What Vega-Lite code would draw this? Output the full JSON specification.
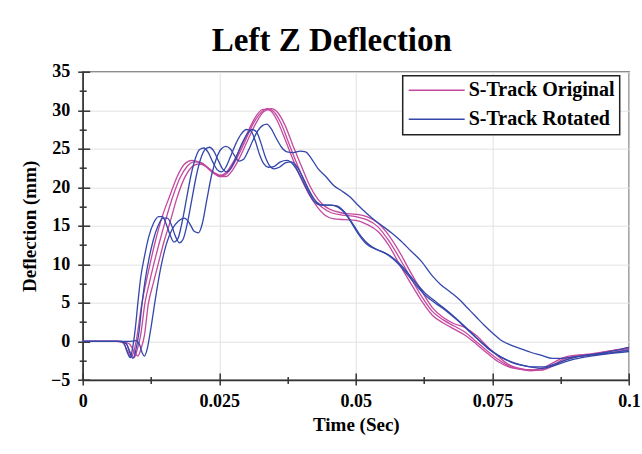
{
  "$schema": "https://vega.github.io/schema/vega-lite/v6.json",
  "autosize": {"type": "none"},
  "padding": {"left": 82.7, "top": 71.7, "right": 13, "bottom": 74},
  "width": 546.3,
  "height": 308.3,
  "background": "white",
  "title": {"text": "Left Z Deflection", "font": "Liberation Serif", "fontSize": 33, "fontWeight": "bold", "color": "#000", "frame": "group", "anchor": "middle", "dx": -24, "baseline": "alphabetic", "offset": -21.6},
  "data": {"values": [
    {"s":"S-Track Original","r":"M1","t":0,"v":0},{"s":"S-Track Original","r":"M1","t":0.006,"v":0},{"s":"S-Track Original","r":"M1","t":0.0072,"v":-0.1},{"s":"S-Track Original","r":"M1","t":0.0082,"v":-1.2},{"s":"S-Track Original","r":"M1","t":0.0088,"v":-2.0},{"s":"S-Track Original","r":"M1","t":0.0094,"v":-1.2},{"s":"S-Track Original","r":"M1","t":0.0099,"v":0.5},{"s":"S-Track Original","r":"M1","t":0.0108,"v":4.8},{"s":"S-Track Original","r":"M1","t":0.012,"v":9},{"s":"S-Track Original","r":"M1","t":0.0133,"v":13},{"s":"S-Track Original","r":"M1","t":0.0146,"v":16.3},{"s":"S-Track Original","r":"M1","t":0.016,"v":19},{"s":"S-Track Original","r":"M1","t":0.0173,"v":21.4},{"s":"S-Track Original","r":"M1","t":0.0186,"v":23},{"s":"S-Track Original","r":"M1","t":0.02,"v":23.5},{"s":"S-Track Original","r":"M1","t":0.0212,"v":23.3},{"s":"S-Track Original","r":"M1","t":0.0225,"v":22.7},{"s":"S-Track Original","r":"M1","t":0.0238,"v":21.9},{"s":"S-Track Original","r":"M1","t":0.025,"v":21.5},{"s":"S-Track Original","r":"M1","t":0.0262,"v":21.9},{"s":"S-Track Original","r":"M1","t":0.0275,"v":23.2},{"s":"S-Track Original","r":"M1","t":0.029,"v":25.3},{"s":"S-Track Original","r":"M1","t":0.0305,"v":27.6},{"s":"S-Track Original","r":"M1","t":0.0318,"v":29.3},{"s":"S-Track Original","r":"M1","t":0.033,"v":30.1},{"s":"S-Track Original","r":"M1","t":0.0342,"v":30.0},{"s":"S-Track Original","r":"M1","t":0.0355,"v":28.8},{"s":"S-Track Original","r":"M1","t":0.037,"v":26.3},{"s":"S-Track Original","r":"M1","t":0.0385,"v":23.6},{"s":"S-Track Original","r":"M1","t":0.04,"v":21.1},{"s":"S-Track Original","r":"M1","t":0.0415,"v":19},{"s":"S-Track Original","r":"M1","t":0.043,"v":17.4},{"s":"S-Track Original","r":"M1","t":0.0445,"v":16.3},{"s":"S-Track Original","r":"M1","t":0.046,"v":15.9},{"s":"S-Track Original","r":"M1","t":0.048,"v":15.8},{"s":"S-Track Original","r":"M1","t":0.05,"v":15.7},{"s":"S-Track Original","r":"M1","t":0.052,"v":15.2},{"s":"S-Track Original","r":"M1","t":0.054,"v":14.3},{"s":"S-Track Original","r":"M1","t":0.056,"v":12.5},{"s":"S-Track Original","r":"M1","t":0.058,"v":10},{"s":"S-Track Original","r":"M1","t":0.06,"v":7.6},{"s":"S-Track Original","r":"M1","t":0.062,"v":5.3},{"s":"S-Track Original","r":"M1","t":0.064,"v":3.4},{"s":"S-Track Original","r":"M1","t":0.066,"v":2.4},{"s":"S-Track Original","r":"M1","t":0.068,"v":1.6},{"s":"S-Track Original","r":"M1","t":0.07,"v":0.8},{"s":"S-Track Original","r":"M1","t":0.072,"v":-0.3},{"s":"S-Track Original","r":"M1","t":0.074,"v":-1.5},{"s":"S-Track Original","r":"M1","t":0.076,"v":-2.6},{"s":"S-Track Original","r":"M1","t":0.078,"v":-3.3},{"s":"S-Track Original","r":"M1","t":0.08,"v":-3.6},{"s":"S-Track Original","r":"M1","t":0.082,"v":-3.7},{"s":"S-Track Original","r":"M1","t":0.084,"v":-3.5},{"s":"S-Track Original","r":"M1","t":0.086,"v":-2.8},{"s":"S-Track Original","r":"M1","t":0.088,"v":-2.1},{"s":"S-Track Original","r":"M1","t":0.09,"v":-1.8},{"s":"S-Track Original","r":"M1","t":0.093,"v":-1.7},{"s":"S-Track Original","r":"M1","t":0.096,"v":-1.3},{"s":"S-Track Original","r":"M1","t":0.1,"v":-0.8},
    {"s":"S-Track Original","r":"M2","t":0,"v":0},{"s":"S-Track Original","r":"M2","t":0.0065,"v":0},{"s":"S-Track Original","r":"M2","t":0.0078,"v":-0.2},{"s":"S-Track Original","r":"M2","t":0.0088,"v":-1.5},{"s":"S-Track Original","r":"M2","t":0.0094,"v":-2.1},{"s":"S-Track Original","r":"M2","t":0.01,"v":-1.0},{"s":"S-Track Original","r":"M2","t":0.0106,"v":0.8},{"s":"S-Track Original","r":"M2","t":0.0114,"v":5},{"s":"S-Track Original","r":"M2","t":0.0122,"v":7.6},{"s":"S-Track Original","r":"M2","t":0.013,"v":10},{"s":"S-Track Original","r":"M2","t":0.0141,"v":13},{"s":"S-Track Original","r":"M2","t":0.0152,"v":15.8},{"s":"S-Track Original","r":"M2","t":0.0165,"v":18.8},{"s":"S-Track Original","r":"M2","t":0.0178,"v":21.2},{"s":"S-Track Original","r":"M2","t":0.0191,"v":22.7},{"s":"S-Track Original","r":"M2","t":0.0204,"v":23.3},{"s":"S-Track Original","r":"M2","t":0.0217,"v":23.2},{"s":"S-Track Original","r":"M2","t":0.023,"v":22.5},{"s":"S-Track Original","r":"M2","t":0.0243,"v":21.8},{"s":"S-Track Original","r":"M2","t":0.0256,"v":21.5},{"s":"S-Track Original","r":"M2","t":0.0268,"v":22.1},{"s":"S-Track Original","r":"M2","t":0.0281,"v":23.6},{"s":"S-Track Original","r":"M2","t":0.0296,"v":25.8},{"s":"S-Track Original","r":"M2","t":0.0311,"v":28.1},{"s":"S-Track Original","r":"M2","t":0.0325,"v":29.6},{"s":"S-Track Original","r":"M2","t":0.0338,"v":30.2},{"s":"S-Track Original","r":"M2","t":0.035,"v":29.8},{"s":"S-Track Original","r":"M2","t":0.0363,"v":28.3},{"s":"S-Track Original","r":"M2","t":0.0378,"v":25.6},{"s":"S-Track Original","r":"M2","t":0.0393,"v":22.9},{"s":"S-Track Original","r":"M2","t":0.0408,"v":20.4},{"s":"S-Track Original","r":"M2","t":0.0423,"v":18.5},{"s":"S-Track Original","r":"M2","t":0.0438,"v":17.4},{"s":"S-Track Original","r":"M2","t":0.0455,"v":16.7},{"s":"S-Track Original","r":"M2","t":0.0475,"v":16.4},{"s":"S-Track Original","r":"M2","t":0.05,"v":16.2},{"s":"S-Track Original","r":"M2","t":0.052,"v":15.8},{"s":"S-Track Original","r":"M2","t":0.054,"v":14.9},{"s":"S-Track Original","r":"M2","t":0.056,"v":13.1},{"s":"S-Track Original","r":"M2","t":0.058,"v":10.8},{"s":"S-Track Original","r":"M2","t":0.06,"v":8.3},{"s":"S-Track Original","r":"M2","t":0.062,"v":5.9},{"s":"S-Track Original","r":"M2","t":0.064,"v":3.9},{"s":"S-Track Original","r":"M2","t":0.066,"v":2.8},{"s":"S-Track Original","r":"M2","t":0.068,"v":2.0},{"s":"S-Track Original","r":"M2","t":0.07,"v":1.2},{"s":"S-Track Original","r":"M2","t":0.072,"v":0},{"s":"S-Track Original","r":"M2","t":0.074,"v":-1.2},{"s":"S-Track Original","r":"M2","t":0.076,"v":-2.3},{"s":"S-Track Original","r":"M2","t":0.078,"v":-3.2},{"s":"S-Track Original","r":"M2","t":0.08,"v":-3.6},{"s":"S-Track Original","r":"M2","t":0.082,"v":-3.8},{"s":"S-Track Original","r":"M2","t":0.084,"v":-3.7},{"s":"S-Track Original","r":"M2","t":0.086,"v":-3.1},{"s":"S-Track Original","r":"M2","t":0.088,"v":-2.3},{"s":"S-Track Original","r":"M2","t":0.09,"v":-1.9},{"s":"S-Track Original","r":"M2","t":0.093,"v":-1.6},{"s":"S-Track Original","r":"M2","t":0.096,"v":-1.3},{"s":"S-Track Original","r":"M2","t":0.1,"v":-0.9},
    {"s":"S-Track Original","r":"M3","t":0,"v":0},{"s":"S-Track Original","r":"M3","t":0.007,"v":0},{"s":"S-Track Original","r":"M3","t":0.0085,"v":-0.3},{"s":"S-Track Original","r":"M3","t":0.0095,"v":-1.4},{"s":"S-Track Original","r":"M3","t":0.0101,"v":-1.9},{"s":"S-Track Original","r":"M3","t":0.0107,"v":-0.9},{"s":"S-Track Original","r":"M3","t":0.0113,"v":0.8},{"s":"S-Track Original","r":"M3","t":0.012,"v":4.8},{"s":"S-Track Original","r":"M3","t":0.0129,"v":7.5},{"s":"S-Track Original","r":"M3","t":0.0138,"v":10},{"s":"S-Track Original","r":"M3","t":0.0149,"v":13},{"s":"S-Track Original","r":"M3","t":0.016,"v":15.5},{"s":"S-Track Original","r":"M3","t":0.0172,"v":18.5},{"s":"S-Track Original","r":"M3","t":0.0185,"v":21},{"s":"S-Track Original","r":"M3","t":0.0198,"v":22.5},{"s":"S-Track Original","r":"M3","t":0.0211,"v":23.0},{"s":"S-Track Original","r":"M3","t":0.0224,"v":22.8},{"s":"S-Track Original","r":"M3","t":0.0237,"v":22.1},{"s":"S-Track Original","r":"M3","t":0.025,"v":21.4},{"s":"S-Track Original","r":"M3","t":0.0262,"v":21.4},{"s":"S-Track Original","r":"M3","t":0.0274,"v":22.2},{"s":"S-Track Original","r":"M3","t":0.0287,"v":23.8},{"s":"S-Track Original","r":"M3","t":0.0302,"v":26.1},{"s":"S-Track Original","r":"M3","t":0.0317,"v":28.3},{"s":"S-Track Original","r":"M3","t":0.0331,"v":29.8},{"s":"S-Track Original","r":"M3","t":0.0345,"v":30.2},{"s":"S-Track Original","r":"M3","t":0.0357,"v":29.7},{"s":"S-Track Original","r":"M3","t":0.037,"v":28.1},{"s":"S-Track Original","r":"M3","t":0.0385,"v":25.4},{"s":"S-Track Original","r":"M3","t":0.04,"v":22.8},{"s":"S-Track Original","r":"M3","t":0.0415,"v":20.3},{"s":"S-Track Original","r":"M3","t":0.043,"v":18.5},{"s":"S-Track Original","r":"M3","t":0.0446,"v":17.4},{"s":"S-Track Original","r":"M3","t":0.0462,"v":16.9},{"s":"S-Track Original","r":"M3","t":0.048,"v":16.6},{"s":"S-Track Original","r":"M3","t":0.05,"v":16.5},{"s":"S-Track Original","r":"M3","t":0.052,"v":16.2},{"s":"S-Track Original","r":"M3","t":0.054,"v":15.4},{"s":"S-Track Original","r":"M3","t":0.056,"v":13.8},{"s":"S-Track Original","r":"M3","t":0.058,"v":11.6},{"s":"S-Track Original","r":"M3","t":0.06,"v":9.0},{"s":"S-Track Original","r":"M3","t":0.062,"v":6.6},{"s":"S-Track Original","r":"M3","t":0.064,"v":4.4},{"s":"S-Track Original","r":"M3","t":0.066,"v":3.1},{"s":"S-Track Original","r":"M3","t":0.068,"v":2.3},{"s":"S-Track Original","r":"M3","t":0.07,"v":1.8},{"s":"S-Track Original","r":"M3","t":0.072,"v":0.8},{"s":"S-Track Original","r":"M3","t":0.074,"v":-0.6},{"s":"S-Track Original","r":"M3","t":0.076,"v":-1.9},{"s":"S-Track Original","r":"M3","t":0.078,"v":-3.0},{"s":"S-Track Original","r":"M3","t":0.08,"v":-3.5},{"s":"S-Track Original","r":"M3","t":0.082,"v":-3.7},{"s":"S-Track Original","r":"M3","t":0.084,"v":-3.7},{"s":"S-Track Original","r":"M3","t":0.086,"v":-3.2},{"s":"S-Track Original","r":"M3","t":0.088,"v":-2.5},{"s":"S-Track Original","r":"M3","t":0.09,"v":-2.0},{"s":"S-Track Original","r":"M3","t":0.093,"v":-1.8},{"s":"S-Track Original","r":"M3","t":0.096,"v":-1.5},{"s":"S-Track Original","r":"M3","t":0.1,"v":-1.1},
    {"s":"S-Track Rotated","r":"B1","t":0,"v":0},{"s":"S-Track Rotated","r":"B1","t":0.0065,"v":0},{"s":"S-Track Rotated","r":"B1","t":0.0075,"v":-0.2},{"s":"S-Track Rotated","r":"B1","t":0.0082,"v":-1.5},{"s":"S-Track Rotated","r":"B1","t":0.0087,"v":-2.1},{"s":"S-Track Rotated","r":"B1","t":0.0091,"v":-1.0},{"s":"S-Track Rotated","r":"B1","t":0.0096,"v":1.5},{"s":"S-Track Rotated","r":"B1","t":0.0101,"v":5},{"s":"S-Track Rotated","r":"B1","t":0.0106,"v":8.2},{"s":"S-Track Rotated","r":"B1","t":0.0113,"v":11},{"s":"S-Track Rotated","r":"B1","t":0.0121,"v":13.6},{"s":"S-Track Rotated","r":"B1","t":0.013,"v":15.4},{"s":"S-Track Rotated","r":"B1","t":0.0139,"v":16.2},{"s":"S-Track Rotated","r":"B1","t":0.0146,"v":16.2},{"s":"S-Track Rotated","r":"B1","t":0.0153,"v":15.2},{"s":"S-Track Rotated","r":"B1","t":0.016,"v":13.8},{"s":"S-Track Rotated","r":"B1","t":0.0167,"v":12.9},{"s":"S-Track Rotated","r":"B1","t":0.0174,"v":13.3},{"s":"S-Track Rotated","r":"B1","t":0.0182,"v":15.5},{"s":"S-Track Rotated","r":"B1","t":0.019,"v":18.5},{"s":"S-Track Rotated","r":"B1","t":0.0198,"v":21.5},{"s":"S-Track Rotated","r":"B1","t":0.0206,"v":23.7},{"s":"S-Track Rotated","r":"B1","t":0.0214,"v":24.9},{"s":"S-Track Rotated","r":"B1","t":0.0222,"v":25.1},{"s":"S-Track Rotated","r":"B1","t":0.023,"v":24.5},{"s":"S-Track Rotated","r":"B1","t":0.0238,"v":23.3},{"s":"S-Track Rotated","r":"B1","t":0.0246,"v":22.3},{"s":"S-Track Rotated","r":"B1","t":0.0254,"v":22.0},{"s":"S-Track Rotated","r":"B1","t":0.0262,"v":22.6},{"s":"S-Track Rotated","r":"B1","t":0.027,"v":23.9},{"s":"S-Track Rotated","r":"B1","t":0.028,"v":25.6},{"s":"S-Track Rotated","r":"B1","t":0.029,"v":26.9},{"s":"S-Track Rotated","r":"B1","t":0.03,"v":27.5},{"s":"S-Track Rotated","r":"B1","t":0.0308,"v":27.3},{"s":"S-Track Rotated","r":"B1","t":0.0316,"v":26},{"s":"S-Track Rotated","r":"B1","t":0.0324,"v":24.2},{"s":"S-Track Rotated","r":"B1","t":0.0332,"v":23.0},{"s":"S-Track Rotated","r":"B1","t":0.034,"v":22.6},{"s":"S-Track Rotated","r":"B1","t":0.035,"v":22.7},{"s":"S-Track Rotated","r":"B1","t":0.0362,"v":23.3},{"s":"S-Track Rotated","r":"B1","t":0.0374,"v":23.5},{"s":"S-Track Rotated","r":"B1","t":0.0386,"v":22.9},{"s":"S-Track Rotated","r":"B1","t":0.0398,"v":21.5},{"s":"S-Track Rotated","r":"B1","t":0.041,"v":19.8},{"s":"S-Track Rotated","r":"B1","t":0.0422,"v":18.3},{"s":"S-Track Rotated","r":"B1","t":0.0435,"v":17.7},{"s":"S-Track Rotated","r":"B1","t":0.045,"v":17.7},{"s":"S-Track Rotated","r":"B1","t":0.0465,"v":17.6},{"s":"S-Track Rotated","r":"B1","t":0.0478,"v":16.9},{"s":"S-Track Rotated","r":"B1","t":0.049,"v":15.6},{"s":"S-Track Rotated","r":"B1","t":0.0505,"v":13.9},{"s":"S-Track Rotated","r":"B1","t":0.052,"v":12.6},{"s":"S-Track Rotated","r":"B1","t":0.0535,"v":12.0},{"s":"S-Track Rotated","r":"B1","t":0.055,"v":11.6},{"s":"S-Track Rotated","r":"B1","t":0.0565,"v":11.0},{"s":"S-Track Rotated","r":"B1","t":0.058,"v":10.1},{"s":"S-Track Rotated","r":"B1","t":0.0595,"v":8.9},{"s":"S-Track Rotated","r":"B1","t":0.061,"v":7.6},{"s":"S-Track Rotated","r":"B1","t":0.0625,"v":6.4},{"s":"S-Track Rotated","r":"B1","t":0.064,"v":5.5},{"s":"S-Track Rotated","r":"B1","t":0.066,"v":4.4},{"s":"S-Track Rotated","r":"B1","t":0.068,"v":3.2},{"s":"S-Track Rotated","r":"B1","t":0.07,"v":1.9},{"s":"S-Track Rotated","r":"B1","t":0.072,"v":0.5},{"s":"S-Track Rotated","r":"B1","t":0.074,"v":-0.8},{"s":"S-Track Rotated","r":"B1","t":0.076,"v":-1.8},{"s":"S-Track Rotated","r":"B1","t":0.078,"v":-2.5},{"s":"S-Track Rotated","r":"B1","t":0.08,"v":-3.0},{"s":"S-Track Rotated","r":"B1","t":0.082,"v":-3.3},{"s":"S-Track Rotated","r":"B1","t":0.084,"v":-3.5},{"s":"S-Track Rotated","r":"B1","t":0.086,"v":-3.2},{"s":"S-Track Rotated","r":"B1","t":0.088,"v":-2.7},{"s":"S-Track Rotated","r":"B1","t":0.09,"v":-2.3},{"s":"S-Track Rotated","r":"B1","t":0.093,"v":-1.9},{"s":"S-Track Rotated","r":"B1","t":0.096,"v":-1.6},{"s":"S-Track Rotated","r":"B1","t":0.1,"v":-1.3},
    {"s":"S-Track Rotated","r":"B2","t":0,"v":0},{"s":"S-Track Rotated","r":"B2","t":0.007,"v":0},{"s":"S-Track Rotated","r":"B2","t":0.008,"v":-0.3},{"s":"S-Track Rotated","r":"B2","t":0.0087,"v":-1.6},{"s":"S-Track Rotated","r":"B2","t":0.0092,"v":-2.2},{"s":"S-Track Rotated","r":"B2","t":0.0097,"v":-1.2},{"s":"S-Track Rotated","r":"B2","t":0.0103,"v":1.2},{"s":"S-Track Rotated","r":"B2","t":0.0108,"v":4.5},{"s":"S-Track Rotated","r":"B2","t":0.0114,"v":7.8},{"s":"S-Track Rotated","r":"B2","t":0.0121,"v":10.6},{"s":"S-Track Rotated","r":"B2","t":0.0129,"v":13.1},{"s":"S-Track Rotated","r":"B2","t":0.0138,"v":15},{"s":"S-Track Rotated","r":"B2","t":0.0147,"v":16.0},{"s":"S-Track Rotated","r":"B2","t":0.0155,"v":16.0},{"s":"S-Track Rotated","r":"B2","t":0.0163,"v":15},{"s":"S-Track Rotated","r":"B2","t":0.017,"v":13.6},{"s":"S-Track Rotated","r":"B2","t":0.0177,"v":12.8},{"s":"S-Track Rotated","r":"B2","t":0.0184,"v":13.3},{"s":"S-Track Rotated","r":"B2","t":0.0192,"v":15.5},{"s":"S-Track Rotated","r":"B2","t":0.02,"v":18.5},{"s":"S-Track Rotated","r":"B2","t":0.0208,"v":21.5},{"s":"S-Track Rotated","r":"B2","t":0.0216,"v":23.7},{"s":"S-Track Rotated","r":"B2","t":0.0224,"v":24.9},{"s":"S-Track Rotated","r":"B2","t":0.0232,"v":25.2},{"s":"S-Track Rotated","r":"B2","t":0.024,"v":24.7},{"s":"S-Track Rotated","r":"B2","t":0.0248,"v":23.5},{"s":"S-Track Rotated","r":"B2","t":0.0256,"v":22.4},{"s":"S-Track Rotated","r":"B2","t":0.0264,"v":22.0},{"s":"S-Track Rotated","r":"B2","t":0.0272,"v":22.6},{"s":"S-Track Rotated","r":"B2","t":0.0281,"v":23.9},{"s":"S-Track Rotated","r":"B2","t":0.0291,"v":25.6},{"s":"S-Track Rotated","r":"B2","t":0.0301,"v":26.9},{"s":"S-Track Rotated","r":"B2","t":0.031,"v":27.5},{"s":"S-Track Rotated","r":"B2","t":0.0318,"v":27.2},{"s":"S-Track Rotated","r":"B2","t":0.0326,"v":25.8},{"s":"S-Track Rotated","r":"B2","t":0.0334,"v":24},{"s":"S-Track Rotated","r":"B2","t":0.0342,"v":22.8},{"s":"S-Track Rotated","r":"B2","t":0.035,"v":22.4},{"s":"S-Track Rotated","r":"B2","t":0.036,"v":22.6},{"s":"S-Track Rotated","r":"B2","t":0.0372,"v":23.2},{"s":"S-Track Rotated","r":"B2","t":0.0382,"v":23.3},{"s":"S-Track Rotated","r":"B2","t":0.0394,"v":22.5},{"s":"S-Track Rotated","r":"B2","t":0.0405,"v":21},{"s":"S-Track Rotated","r":"B2","t":0.0416,"v":19.4},{"s":"S-Track Rotated","r":"B2","t":0.0428,"v":18.1},{"s":"S-Track Rotated","r":"B2","t":0.044,"v":17.7},{"s":"S-Track Rotated","r":"B2","t":0.0455,"v":17.7},{"s":"S-Track Rotated","r":"B2","t":0.0468,"v":17.4},{"s":"S-Track Rotated","r":"B2","t":0.0482,"v":16.5},{"s":"S-Track Rotated","r":"B2","t":0.0495,"v":15.2},{"s":"S-Track Rotated","r":"B2","t":0.051,"v":13.6},{"s":"S-Track Rotated","r":"B2","t":0.0525,"v":12.5},{"s":"S-Track Rotated","r":"B2","t":0.054,"v":11.9},{"s":"S-Track Rotated","r":"B2","t":0.0555,"v":11.4},{"s":"S-Track Rotated","r":"B2","t":0.057,"v":10.6},{"s":"S-Track Rotated","r":"B2","t":0.0585,"v":9.5},{"s":"S-Track Rotated","r":"B2","t":0.06,"v":8.2},{"s":"S-Track Rotated","r":"B2","t":0.0615,"v":6.9},{"s":"S-Track Rotated","r":"B2","t":0.063,"v":5.8},{"s":"S-Track Rotated","r":"B2","t":0.0645,"v":5.0},{"s":"S-Track Rotated","r":"B2","t":0.0665,"v":4.0},{"s":"S-Track Rotated","r":"B2","t":0.0685,"v":2.8},{"s":"S-Track Rotated","r":"B2","t":0.0705,"v":1.5},{"s":"S-Track Rotated","r":"B2","t":0.0725,"v":0.2},{"s":"S-Track Rotated","r":"B2","t":0.0745,"v":-1.0},{"s":"S-Track Rotated","r":"B2","t":0.0765,"v":-2.0},{"s":"S-Track Rotated","r":"B2","t":0.0785,"v":-2.7},{"s":"S-Track Rotated","r":"B2","t":0.0805,"v":-3.1},{"s":"S-Track Rotated","r":"B2","t":0.0825,"v":-3.3},{"s":"S-Track Rotated","r":"B2","t":0.0845,"v":-3.3},{"s":"S-Track Rotated","r":"B2","t":0.0865,"v":-2.9},{"s":"S-Track Rotated","r":"B2","t":0.0885,"v":-2.4},{"s":"S-Track Rotated","r":"B2","t":0.0905,"v":-2.0},{"s":"S-Track Rotated","r":"B2","t":0.0935,"v":-1.7},{"s":"S-Track Rotated","r":"B2","t":0.0965,"v":-1.5},{"s":"S-Track Rotated","r":"B2","t":0.1,"v":-1.1},
    {"s":"S-Track Rotated","r":"B3","t":0,"v":0},{"s":"S-Track Rotated","r":"B3","t":0.0085,"v":0},{"s":"S-Track Rotated","r":"B3","t":0.0097,"v":0.1},{"s":"S-Track Rotated","r":"B3","t":0.0104,"v":-0.4},{"s":"S-Track Rotated","r":"B3","t":0.0109,"v":-1.5},{"s":"S-Track Rotated","r":"B3","t":0.0113,"v":-1.9},{"s":"S-Track Rotated","r":"B3","t":0.0118,"v":-1.0},{"s":"S-Track Rotated","r":"B3","t":0.0125,"v":1.8},{"s":"S-Track Rotated","r":"B3","t":0.0133,"v":5.5},{"s":"S-Track Rotated","r":"B3","t":0.0143,"v":9.6},{"s":"S-Track Rotated","r":"B3","t":0.0153,"v":12.6},{"s":"S-Track Rotated","r":"B3","t":0.0164,"v":14.6},{"s":"S-Track Rotated","r":"B3","t":0.0175,"v":15.6},{"s":"S-Track Rotated","r":"B3","t":0.0186,"v":16.0},{"s":"S-Track Rotated","r":"B3","t":0.0195,"v":15.4},{"s":"S-Track Rotated","r":"B3","t":0.0204,"v":14.3},{"s":"S-Track Rotated","r":"B3","t":0.0212,"v":14.1},{"s":"S-Track Rotated","r":"B3","t":0.0219,"v":15.3},{"s":"S-Track Rotated","r":"B3","t":0.0227,"v":18.3},{"s":"S-Track Rotated","r":"B3","t":0.0236,"v":21.6},{"s":"S-Track Rotated","r":"B3","t":0.0245,"v":23.8},{"s":"S-Track Rotated","r":"B3","t":0.0254,"v":25.0},{"s":"S-Track Rotated","r":"B3","t":0.0262,"v":25.3},{"s":"S-Track Rotated","r":"B3","t":0.027,"v":25.0},{"s":"S-Track Rotated","r":"B3","t":0.0278,"v":24.1},{"s":"S-Track Rotated","r":"B3","t":0.0286,"v":23.4},{"s":"S-Track Rotated","r":"B3","t":0.0294,"v":23.6},{"s":"S-Track Rotated","r":"B3","t":0.0302,"v":24.6},{"s":"S-Track Rotated","r":"B3","t":0.0311,"v":26.0},{"s":"S-Track Rotated","r":"B3","t":0.032,"v":27.3},{"s":"S-Track Rotated","r":"B3","t":0.0329,"v":28.0},{"s":"S-Track Rotated","r":"B3","t":0.0337,"v":28.2},{"s":"S-Track Rotated","r":"B3","t":0.0345,"v":27.6},{"s":"S-Track Rotated","r":"B3","t":0.0354,"v":26.4},{"s":"S-Track Rotated","r":"B3","t":0.0364,"v":25.2},{"s":"S-Track Rotated","r":"B3","t":0.0374,"v":24.6},{"s":"S-Track Rotated","r":"B3","t":0.0385,"v":24.5},{"s":"S-Track Rotated","r":"B3","t":0.0398,"v":24.7},{"s":"S-Track Rotated","r":"B3","t":0.0408,"v":24.6},{"s":"S-Track Rotated","r":"B3","t":0.0418,"v":23.8},{"s":"S-Track Rotated","r":"B3","t":0.043,"v":22.5},{"s":"S-Track Rotated","r":"B3","t":0.0445,"v":21.4},{"s":"S-Track Rotated","r":"B3","t":0.046,"v":20.2},{"s":"S-Track Rotated","r":"B3","t":0.0475,"v":19.5},{"s":"S-Track Rotated","r":"B3","t":0.049,"v":18.7},{"s":"S-Track Rotated","r":"B3","t":0.0505,"v":17.6},{"s":"S-Track Rotated","r":"B3","t":0.052,"v":16.6},{"s":"S-Track Rotated","r":"B3","t":0.0535,"v":15.7},{"s":"S-Track Rotated","r":"B3","t":0.055,"v":14.9},{"s":"S-Track Rotated","r":"B3","t":0.0565,"v":14.1},{"s":"S-Track Rotated","r":"B3","t":0.058,"v":13.2},{"s":"S-Track Rotated","r":"B3","t":0.06,"v":11.8},{"s":"S-Track Rotated","r":"B3","t":0.062,"v":10.4},{"s":"S-Track Rotated","r":"B3","t":0.064,"v":8.5},{"s":"S-Track Rotated","r":"B3","t":0.0655,"v":7.4},{"s":"S-Track Rotated","r":"B3","t":0.0675,"v":6.3},{"s":"S-Track Rotated","r":"B3","t":0.069,"v":5.4},{"s":"S-Track Rotated","r":"B3","t":0.0705,"v":4.3},{"s":"S-Track Rotated","r":"B3","t":0.072,"v":3.2},{"s":"S-Track Rotated","r":"B3","t":0.0735,"v":2.1},{"s":"S-Track Rotated","r":"B3","t":0.075,"v":1.1},{"s":"S-Track Rotated","r":"B3","t":0.0765,"v":0.2},{"s":"S-Track Rotated","r":"B3","t":0.0785,"v":-0.5},{"s":"S-Track Rotated","r":"B3","t":0.08,"v":-0.9},{"s":"S-Track Rotated","r":"B3","t":0.082,"v":-1.4},{"s":"S-Track Rotated","r":"B3","t":0.084,"v":-1.8},{"s":"S-Track Rotated","r":"B3","t":0.086,"v":-2.2},{"s":"S-Track Rotated","r":"B3","t":0.0875,"v":-2.2},{"s":"S-Track Rotated","r":"B3","t":0.09,"v":-2.0},{"s":"S-Track Rotated","r":"B3","t":0.093,"v":-1.7},{"s":"S-Track Rotated","r":"B3","t":0.096,"v":-1.4},{"s":"S-Track Rotated","r":"B3","t":0.098,"v":-1.1},{"s":"S-Track Rotated","r":"B3","t":0.1,"v":-0.75}
  ]},
  "layer": [
    {
      "mark": {"type": "line", "strokeWidth": 1.3, "interpolate": "monotone"},
      "encoding": {
        "x": {"field": "t", "type": "quantitative", "scale": {"domain": [0, 0.1], "nice": false},
          "axis": {"orient": "bottom", "values": [0, 0.025, 0.05, 0.075, 0.1], "format": ".3~f", "title": "Time (Sec)", "tickSize": 5, "labelPadding": 7.5, "titlePadding": 5, "grid": true, "labelFlush": false}},
        "y": {"field": "v", "type": "quantitative", "scale": {"domain": [-5, 35], "nice": false, "zero": false},
          "axis": {"orient": "left", "values": [-5, 0, 5, 10, 15, 20, 25, 30, 35], "title": "Deflection (mm)", "tickSize": 5, "labelPadding": 8, "titlePadding": 11, "grid": true, "labelFlush": false}},
        "color": {"field": "s", "type": "nominal",
          "scale": {"domain": ["S-Track Original", "S-Track Rotated"], "range": ["#c4489f", "#3447aa"]},
          "legend": {"title": null, "orient": "none", "legendX": 320, "legendY": 4, "symbolType": "stroke", "symbolSize": 3136, "symbolStrokeWidth": 1.5, "clipHeight": 19, "labelFont": "Liberation Serif", "labelFontSize": 20, "labelFontWeight": "bold", "labelColor": "#000", "labelOffset": 3, "labelLimit": 300, "padding": 5, "rowPadding": 8, "strokeColor": "#222", "fillColor": "white"}},
        "detail": {"field": "r", "type": "nominal"}
      }
    },
    {
      "mark": {"type": "point", "opacity": 0, "size": 0},
      "encoding": {
        "x": {"field": "t", "type": "quantitative", "axis": {"orient": "bottom", "values": [0, 0.025, 0.05, 0.075, 0.1], "labels": false, "domain": false, "grid": false, "title": null, "offset": -7, "tickSize": 7}},
        "y": {"field": "v", "type": "quantitative", "axis": {"orient": "left", "values": [-5, 0, 5, 10, 15, 20, 25, 30, 35], "labels": false, "domain": false, "grid": false, "title": null, "offset": -7, "tickSize": 7}}
      }
    },
    {
      "mark": {"type": "point", "opacity": 0, "size": 0},
      "encoding": {
        "x": {"field": "t", "type": "quantitative", "axis": {"orient": "bottom", "values": [0.0125, 0.0375, 0.0625, 0.0875], "labels": false, "domain": false, "grid": false, "title": null, "offset": -3.5, "tickSize": 7}},
        "y": {"field": "v", "type": "quantitative", "axis": {"orient": "left", "values": [-2.5, 2.5, 7.5, 12.5, 17.5, 22.5, 27.5, 32.5], "labels": false, "domain": false, "grid": false, "title": null, "offset": -3.5, "tickSize": 7}}
      }
    }
  ],
  "resolve": {"axis": {"x": "independent", "y": "independent"}},
  "config": {
    "view": {"stroke": "#666", "strokeWidth": 1.5},
    "legend": {"strokeWidth": 1.5},
    "axis": {"labelFont": "Liberation Serif", "labelFontSize": 18, "labelFontWeight": "bold", "labelColor": "#000", "titleFont": "Liberation Serif", "titleFontSize": 19, "titleFontWeight": "bold", "titleColor": "#000", "domainColor": "#333", "domainWidth": 1.5, "tickColor": "#333", "tickWidth": 1.5, "gridColor": "#e2e2e2", "gridWidth": 1}
  }
}
